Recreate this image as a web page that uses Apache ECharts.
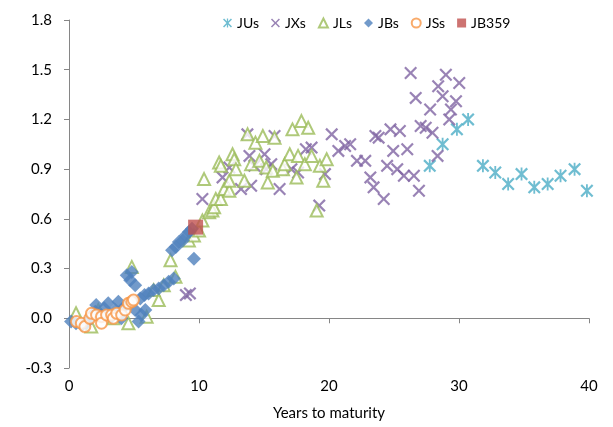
<!DOCTYPE html>
<html><head><meta charset="utf-8">
<script src="https://cdn.jsdelivr.net/npm/echarts@6/dist/echarts.min.js"></script>
<style>html,body{margin:0;padding:0;background:#fff}#c{width:613px;height:427px}</style>
</head><body><div id="c"></div>
<script>
const xMin = 0, xMax = 40, xStep = 10;
const yMin = -0.3, yMax = 1.8, yStep = 0.3;
const xTitle = 'Years to maturity';
const seriesNames = ['JUs', 'JXs', 'JLs', 'JBs', 'JSs', 'JB359'];

const JUs = [[27.75,0.92],[28.74,1.05],[29.84,1.14],[30.70,1.20],[31.84,0.92],[32.79,0.88],[33.78,0.81],[34.81,0.87],[35.79,0.79],[36.82,0.81],[37.81,0.86],[38.89,0.90],[39.84,0.77]];
const JXs = [[8.99,0.14],[9.30,0.15],[10.26,0.72],[11.81,0.85],[12.33,0.91],[13.23,0.78],[13.72,1.11],[13.88,0.98],[14.01,0.80],[14.26,0.92],[15.04,0.99],[15.17,0.90],[15.56,0.93],[15.81,1.10],[16.20,0.78],[17.11,0.90],[17.62,0.88],[18.22,1.02],[18.66,1.03],[19.25,0.68],[19.69,0.87],[20.21,1.11],[20.72,1.01],[21.24,1.04],[21.63,1.05],[22.15,0.95],[22.79,0.95],[23.18,0.85],[23.43,0.79],[23.57,1.10],[23.82,1.09],[24.21,0.72],[24.47,0.92],[24.73,1.14],[24.94,1.01],[25.25,0.90],[25.45,1.13],[25.76,0.86],[26.02,1.02],[26.28,1.48],[26.53,0.86],[26.67,1.33],[26.92,0.77],[27.05,1.16],[27.44,1.15],[27.78,1.26],[27.96,1.12],[28.35,0.98],[28.40,1.40],[28.74,1.34],[28.99,1.47],[29.25,1.20],[29.38,1.26],[29.77,1.31],[30.02,1.42]];
const JLs = [[0.54,0.03],[1.71,-0.05],[2.25,0.05],[3.41,0.00],[4.57,-0.03],[4.83,0.31],[5.97,0.01],[6.51,0.17],[6.90,0.11],[7.29,0.20],[7.81,0.35],[8.19,0.25],[9.22,0.47],[9.61,0.50],[10.00,0.53],[10.26,0.59],[10.39,0.84],[10.78,0.64],[11.03,0.65],[11.16,0.67],[11.29,0.72],[11.55,0.94],[11.68,0.72],[11.68,0.92],[11.94,0.78],[12.33,0.77],[12.33,0.83],[12.58,0.99],[12.71,0.96],[12.84,0.90],[13.49,0.83],[13.74,1.11],[14.01,0.93],[14.34,1.06],[14.65,0.95],[14.91,1.10],[15.17,0.91],[15.29,0.82],[15.68,0.89],[15.81,1.09],[16.46,0.90],[16.59,0.93],[16.98,0.99],[17.19,1.14],[17.50,0.85],[17.62,0.98],[17.88,1.19],[18.14,0.93],[18.40,1.15],[18.66,0.98],[19.05,0.65],[19.30,0.92],[19.56,0.83],[19.82,0.96]];
const JBs = [[0.16,-0.02],[0.54,-0.03],[1.01,-0.04],[1.32,-0.03],[1.63,0.00],[2.02,0.04],[2.09,0.08],[2.48,0.02],[2.71,0.06],[3.02,0.09],[3.26,0.01],[3.57,0.05],[3.80,0.10],[4.03,0.00],[4.26,0.07],[4.44,0.26],[4.83,0.28],[4.71,0.23],[5.09,0.20],[5.09,0.05],[5.35,-0.02],[5.48,0.12],[5.58,0.02],[5.87,0.05],[5.81,0.14],[6.12,0.15],[6.51,0.17],[6.90,0.18],[7.29,0.20],[7.67,0.22],[8.06,0.24],[7.93,0.41],[8.22,0.43],[8.45,0.46],[8.76,0.47],[8.97,0.50],[9.22,0.52],[9.46,0.54],[9.61,0.36]];
const JSs = [[0.57,-0.02],[0.95,-0.03],[1.22,-0.05],[1.60,0.00],[1.73,0.03],[2.12,0.02],[2.50,0.01],[2.50,-0.03],[2.89,0.02],[3.28,0.02],[3.41,0.00],[3.67,0.03],[4.05,0.02],[4.32,0.05],[4.57,0.09],[4.83,0.10],[4.96,0.11]];
const JB359 = [[9.74,0.55]];

const X_PATH = 'path://M0,1.2L1.2,0L5,3.8L8.8,0L10,1.2L6.2,5L10,8.8L8.8,10L5,6.2L1.2,10L0,8.8L3.8,5Z';
const AST_PATH = X_PATH + 'M4.3,0L5.7,0L5.7,10L4.3,10Z';
const FONT = 'Lato';
const AXIS_COLOR = '#868686';

const chart = echarts.init(document.getElementById('c'), null, {renderer: 'canvas'});
chart.setOption({
  animation: false,
  backgroundColor: '#fff',
  textStyle: {fontFamily: FONT},
  grid: {left: 69, right: 24, top: 20, bottom: 59},
  legend: {
    left: 218, top: 11, itemWidth: 9, itemHeight: 9, itemGap: 12,
    textStyle: {fontFamily: FONT, fontSize: 14, color: '#000'},
    data: seriesNames
  },
  xAxis: [
    {type: 'value', min: xMin, max: xMax, interval: xStep, position: 'bottom',
     axisLine: {show: false, onZero: false}, axisTick: {show: false}, splitLine: {show: false},
     axisLabel: {margin: 11, fontSize: 15, color: '#000', fontFamily: FONT},
     name: xTitle, nameLocation: 'middle', nameGap: 38,
     nameTextStyle: {fontSize: 15, color: '#000', fontFamily: FONT}},
    {type: 'value', min: xMin, max: xMax, interval: xStep, position: 'bottom',
     axisLine: {show: true, onZero: true, lineStyle: {color: AXIS_COLOR, width: 1}},
     axisTick: {show: true, length: 5, lineStyle: {color: AXIS_COLOR}},
     axisLabel: {show: false}, splitLine: {show: false}}
  ],
  yAxis: {type: 'value', min: yMin, max: yMax, interval: yStep,
    axisLine: {show: true, onZero: false, lineStyle: {color: AXIS_COLOR, width: 1}},
    axisTick: {show: true, length: 5, lineStyle: {color: AXIS_COLOR}},
    splitLine: {show: false},
    axisLabel: {margin: 17, fontSize: 15, color: '#000', fontFamily: FONT,
      formatter: v => (Math.abs(v) < 1e-9 ? 0 : v).toFixed(1)}},
  series: [
    {name: 'JUs', type: 'scatter', data: JUs, symbol: AST_PATH, symbolSize: 13,
     itemStyle: {color: '#4BACC6'}},
    {name: 'JXs', type: 'scatter', data: JXs, symbol: X_PATH, symbolSize: 13,
     itemStyle: {color: '#8064A2'}},
    {name: 'JLs', type: 'scatter', data: JLs, symbol: 'triangle', symbolSize: 12,
     itemStyle: {color: '#fff', borderColor: '#9BBB59', borderWidth: 2}},
    {name: 'JBs', type: 'scatter', data: JBs, symbol: 'diamond', symbolSize: 14,
     itemStyle: {color: '#4F81BD'}},
    {name: 'JSs', type: 'scatter', data: JSs, symbol: 'circle', symbolSize: 11,
     itemStyle: {color: '#fff', borderColor: '#F79646', borderWidth: 2}},
    {name: 'JB359', type: 'scatter', data: JB359, symbol: 'rect', symbolSize: 15,
     itemStyle: {color: '#C0504D'}}
  ]
});
</script></body></html>
